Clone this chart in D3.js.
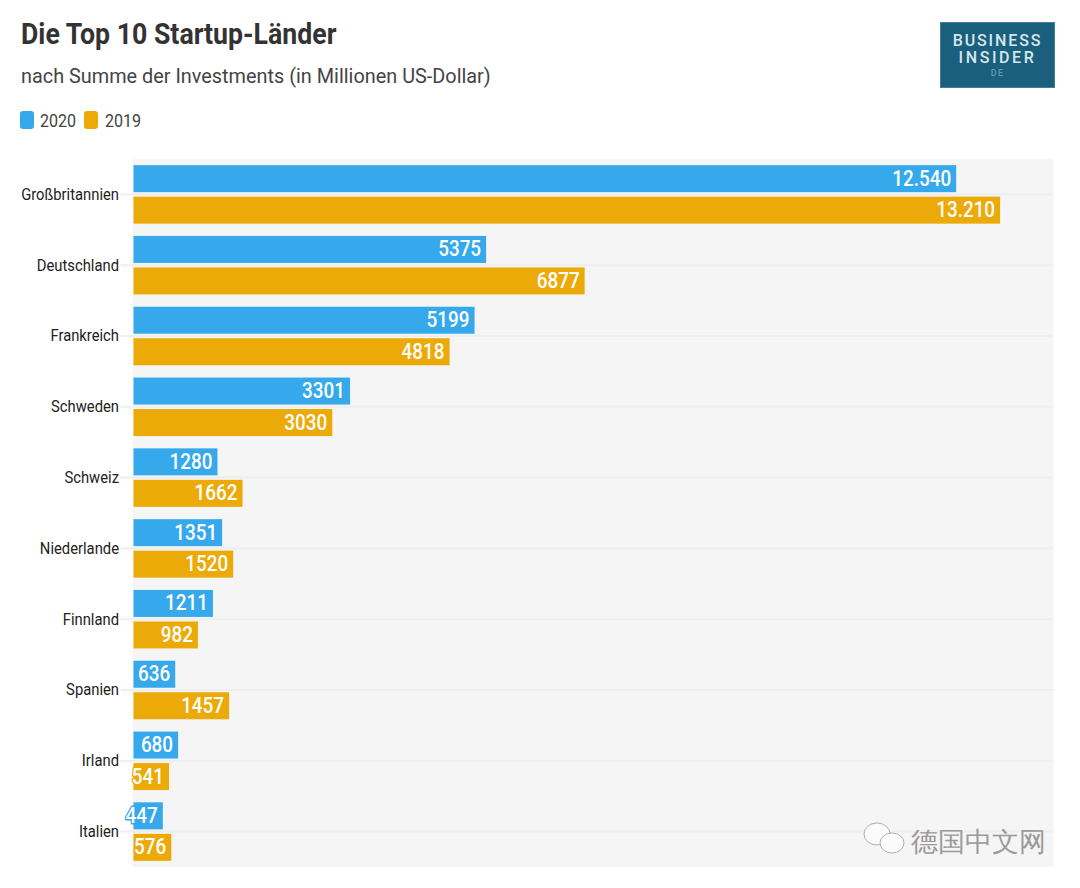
<!DOCTYPE html>
<html>
<head>
<meta charset="utf-8">
<script src="https://cdn.jsdelivr.net/npm/d3@7"></script>
<style>
  html, body { margin: 0; padding: 0; background: #fff; }
  text { font-family: Roboto, sans-serif; }
</style>
</head>
<body>
<div id="chart"></div>
<script>
var categories = ["Großbritannien", "Deutschland", "Frankreich", "Schweden", "Schweiz",
  "Niederlande", "Finnland", "Spanien", "Irland", "Italien"];
var values2020 = [12540, 5375, 5199, 3301, 1280, 1351, 1211, 636, 680, 447];
var values2019 = [13210, 6877, 4818, 3030, 1662, 1520, 982, 1457, 541, 576];
var labels2020 = ["12.540", "5375", "5199", "3301", "1280", "1351", "1211", "636", "680", "447"];
var labels2019 = ["13.210", "6877", "4818", "3030", "1662", "1520", "982", "1457", "541", "576"];
var seriesNames = ["2020", "2019"];
var seriesColors = ["#36a9ec", "#ecaa09"];

var width = 1080, height = 888;
var plotLeft = 133.5, plotRight = 1053.5, plotTop = 159, plotBottom = 867;
var condensed = 0.86; // no Roboto Condensed here, squeeze Roboto instead

var svg = d3.select("#chart").append("svg")
  .attr("width", width).attr("height", height)
  .style("display", "block");

function label(x, y, str, size, weight, fill, anchor, sx) {
  return svg.append("text")
    .attr("transform", "translate(" + x + "," + y + ") scale(" + (sx || condensed) + ",1)")
    .attr("font-size", size)
    .attr("font-weight", weight)
    .attr("fill", fill)
    .attr("text-anchor", anchor || "start")
    .text(str);
}

// header
label(21, 44, "Die Top 10 Startup-Länder", 29, 700, "#333333", "start", 0.92);
label(21, 83, "nach Summe der Investments (in Millionen US-Dollar)", 21, 400, "#444444", "start", 0.946);

// legend
var legendX = [20, 84], legendTextX = [40, 105];
seriesNames.forEach(function (name, i) {
  svg.append("rect")
    .attr("x", legendX[i]).attr("y", 111)
    .attr("width", 14).attr("height", 18).attr("rx", 3)
    .attr("fill", seriesColors[i]);
  label(legendTextX[i], 127, name, 17.5, 400, "#444444", "start", 0.92);
});

// logo
svg.append("rect")
  .attr("x", 940.5).attr("y", 22.5).attr("width", 114).attr("height", 65)
  .attr("fill", "#1a5f7c").attr("stroke", "#3f7f9b");
label(997.5, 46, "BUSINESS", 16, 500, "#d7e6ec", "middle", 1).attr("letter-spacing", 1.9);
label(997.5, 63, "INSIDER", 16, 500, "#d7e6ec", "middle", 1).attr("letter-spacing", 2.6);
label(997.5, 76, "DE", 9, 500, "#5d9db8", "middle", 1).attr("letter-spacing", 1.2);

// scales
var x = d3.scaleLinear().domain([0, 14024]).range([plotLeft, plotRight]);
var y = d3.scaleBand().domain(categories).range([plotTop, plotBottom]);
var y1 = d3.scaleBand().domain(seriesNames).range([0, y.bandwidth()]).paddingInner(0.143).paddingOuter(0.195);

svg.append("rect")
  .attr("x", plotLeft - 1).attr("y", plotTop)
  .attr("width", plotRight - plotLeft + 1).attr("height", plotBottom - plotTop)
  .attr("fill", "#f5f5f5");

// category axis, ticks double as the row lines
var axis = svg.append("g")
  .attr("transform", "translate(" + plotLeft + ",0)")
  .call(d3.axisLeft(y).tickSize(-(plotRight - plotLeft)).tickPadding(14));
axis.select(".domain").remove();
axis.selectAll("line").attr("x1", -13).attr("stroke", "#eeeeee").attr("stroke-width", 2);
axis.selectAll("text")
  .attr("font-family", "Roboto, sans-serif")
  .attr("font-size", 17)
  .attr("fill", "#222222")
  .attr("x", 0)
  .attr("transform", "translate(-14.5,0) scale(0.87,1)");

// bars
var series = [
  { name: "2020", values: values2020, labels: labels2020, color: seriesColors[0] },
  { name: "2019", values: values2019, labels: labels2019, color: seriesColors[1] }
];

series.forEach(function (s) {
  var g = svg.append("g");
  g.selectAll("rect").data(s.values).enter().append("rect")
    .attr("x", x(0))
    .attr("y", function (d, i) { return y(categories[i]) + y1(s.name); })
    .attr("width", function (d) { return x(d) - x(0); })
    .attr("height", y1.bandwidth())
    .attr("fill", s.color);

  // white value label with halo in bar colour, it shows on the tiny bars
  g.selectAll("text").data(s.values).enter().append("text")
    .attr("transform", function (d, i) {
      var cy = y(categories[i]) + y1(s.name) + y1.bandwidth() / 2;
      return "translate(" + (x(d) - 5) + "," + (cy + 7) + ") scale(0.84,1)";
    })
    .attr("text-anchor", "end")
    .attr("font-size", 22.5)
    .attr("font-weight", 500)
    .attr("fill", "#ffffff")
    .attr("stroke", s.color)
    .attr("stroke-width", 3)
    .attr("stroke-linejoin", "round")
    .attr("paint-order", "stroke")
    .text(function (d, i) { return s.labels[i]; });
});

// watermark
var mark = svg.append("g").attr("fill", "#fbfbfb").attr("stroke", "#b0b0b0").attr("stroke-width", 1);
mark.append("ellipse").attr("cx", 877).attr("cy", 834).attr("rx", 13).attr("ry", 11);
mark.append("ellipse").attr("cx", 892).attr("cy", 843).attr("rx", 12).attr("ry", 10);
svg.append("text")
  .attr("x", 911).attr("y", 851)
  .attr("font-family", "'Noto Sans CJK SC', sans-serif")
  .attr("font-size", 26.5)
  .attr("fill", "#9a9a9a")
  .text("德国中文网");
</script>
</body>
</html>
